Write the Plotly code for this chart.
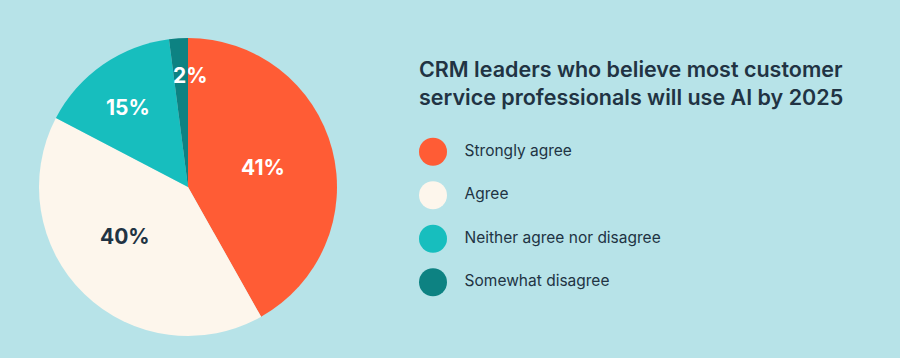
import math
import plotly.graph_objects as go

categories = ["Strongly agree", "Agree", "Neither agree nor disagree", "Somewhat disagree"]
values = [41, 40, 15, 2]
colors = ["#FF5C35", "#FDF6EC", "#17BEBE", "#0D8282"]
label_colors = ["#FFFFFF", "#213343", "#FFFFFF", "#FFFFFF"]
title_text = "CRM leaders who believe most customer<br>service professionals will use AI by 2025"

W, H = 900, 358
BG = "#B7E3E8"
DARK = "#213343"
FONT = "Inter"

# pie geometry (pixels)
cx, cy, R = 188, 187, 149
label_radius = [0.52, 0.54, 0.67, 0.75]
label_angle_shift = [0, 8, -2, 5]

fig = go.Figure()
fig.add_trace(go.Pie(
    labels=categories, values=values, sort=False, direction="clockwise", rotation=0,
    marker=dict(colors=colors, line=dict(width=0)),
    textinfo="none", hoverinfo="label+value", showlegend=False,
    domain=dict(x=[(cx - R) / W, (cx + R) / W], y=[(H - cy - R) / H, (H - cy + R) / H]),
))

total = sum(values)
cum = 0
for v, c, rf, sh in zip(values, label_colors, label_radius, label_angle_shift):
    mid = (cum + v / 2) / total * 360 + sh
    cum += v
    th = math.radians(mid)
    px = cx + rf * R * math.sin(th)
    py = cy - rf * R * math.cos(th)
    fig.add_annotation(x=px / W, y=(H - py) / H, xref="paper", yref="paper",
                       xanchor="center", yanchor="middle",
                       text=f"{v}%", showarrow=False,
                       font=dict(family=FONT, size=21, color=c, weight=700))

# legend as scatter
fig.add_trace(go.Scatter(
    x=[0] * len(categories), y=categories, mode="markers+text",
    marker=dict(size=28, color=colors, line=dict(width=0)),
    text=["&nbsp;&nbsp;&nbsp;" + c for c in categories], textposition="middle right",
    textfont=dict(family=FONT, size=15.5, color=DARK),
    xaxis="x2", yaxis="y2", showlegend=False, hoverinfo="skip", cliponaxis=False,
))

fig.add_annotation(x=417 / W, y=(H - 54) / H, xref="paper", yref="paper",
                   xanchor="left", yanchor="top", align="left", showarrow=False,
                   text=title_text,
                   font=dict(family=FONT, size=21.5, color=DARK, weight=600))

fig.update_layout(
    width=W, height=H, margin=dict(l=0, r=0, t=0, b=0),
    paper_bgcolor=BG, plot_bgcolor=BG,
    xaxis2=dict(domain=[0.4, 1.0], range=[-73, 467], visible=False, fixedrange=True),
    yaxis2=dict(domain=[(H - 304) / H, (H - 130) / H], type="category",
                categoryarray=categories, range=[3.5, -0.5], visible=False, anchor="x2",
                fixedrange=True),
)

fig.write_html("out.html", config={"displayModeBar": False},
               post_script="document.body.style.margin='0px';document.body.style.overflow='hidden';")
